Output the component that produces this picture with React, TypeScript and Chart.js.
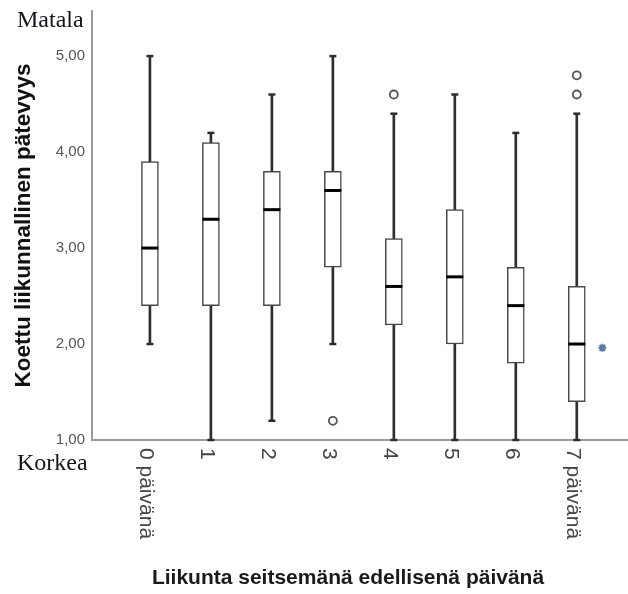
import { useEffect, useRef } from 'react';
import { Chart, registerables } from 'chart.js';

Chart.register(...registerables);

const categories = ['0 päivänä', '1', '2', '3', '4', '5', '6', '7 päivänä'];
const whiskerLow = [2.0, 1.0, 1.2, 2.0, 1.0, 1.0, 1.0, 1.0];
const q1 = [2.4, 2.4, 2.4, 2.8, 2.2, 2.0, 1.8, 1.4];
const median = [3.0, 3.3, 3.4, 3.6, 2.6, 2.7, 2.4, 2.0];
const q3 = [3.9, 4.1, 3.8, 3.8, 3.1, 3.4, 2.8, 2.6];
const whiskerHigh = [5.0, 4.2, 4.6, 5.0, 4.4, 4.6, 4.2, 4.4];
const outlierGroup = [3, 4, 7, 7];
const outlierValue = [1.2, 4.6, 4.6, 4.8];
const extremeX = [7.42];
const extremeY = [1.96];
const yTicks = [1, 2, 3, 4, 5];

const SANS = "'Liberation Sans', Arial, sans-serif";
const SERIF = "'Liberation Serif', 'Times New Roman', serif";

export default function App() {
  const ref = useRef<HTMLCanvasElement>(null);

  useEffect(() => {
    const canvas = ref.current;
    if (!canvas) return;

    const textPlugin = {
      id: 'extraTexts',
      afterDraw(chart: any) {
        const ctx = chart.ctx as CanvasRenderingContext2D;
        const xs = chart.scales.x;
        const area = chart.chartArea;
        ctx.save();
        // rotated category labels (clockwise)
        ctx.fillStyle = '#444';
        ctx.font = `21px ${SANS}`;
        ctx.textAlign = 'left';
        ctx.textBaseline = 'middle';
        categories.forEach((c, i) => {
          const px = xs.getPixelForValue(i);
          ctx.save();
          ctx.translate(px - 4, area.bottom + 8);
          ctx.rotate(Math.PI / 2);
          ctx.fillText(c, 0, 0);
          ctx.restore();
        });
        // x title
        ctx.fillStyle = '#1a1a1a';
        ctx.font = `bold 21px ${SANS}`;
        ctx.textAlign = 'center';
        ctx.textBaseline = 'alphabetic';
        ctx.fillText('Liikunta seitsemänä edellisenä päivänä', 348, 584);
        // Matala / Korkea
        ctx.fillStyle = '#151520';
        ctx.font = `24px ${SERIF}`;
        ctx.textAlign = 'left';
        ctx.fillText('Matala', 17, 27);
        ctx.fillText('Korkea', 17, 470);
        ctx.restore();
      },
    };

    const chart = new Chart(canvas, {
      type: 'bar',
      data: {
        datasets: [
          {
            type: 'bar',
            label: 'whisker',
            data: categories.map((_, i) => ({ x: i, y: [whiskerLow[i], whiskerHigh[i]] })) as any,
            backgroundColor: '#2e2e2e',
            borderWidth: 0,
            barThickness: 2,
            grouped: false,
            order: 5,
          } as any,
          {
            type: 'bar',
            label: 'box',
            data: categories.map((_, i) => ({ x: i, y: [q1[i], q3[i]] })) as any,
            backgroundColor: '#ffffff',
            borderColor: '#484848',
            borderWidth: 1.5,
            borderSkipped: false,
            barThickness: 17,
            grouped: false,
            order: 4,
          } as any,
          {
            type: 'scatter',
            label: 'median',
            data: categories.map((_, i) => ({ x: i, y: median[i] })),
            pointStyle: 'line',
            pointRadius: 8.5,
            pointBorderWidth: 3,
            pointBorderColor: '#000',
            clip: false,
            order: 3,
          } as any,
          {
            type: 'scatter',
            label: 'caps',
            data: [
              ...categories.map((_, i) => ({ x: i, y: whiskerLow[i] })),
              ...categories.map((_, i) => ({ x: i, y: whiskerHigh[i] })),
            ],
            pointStyle: 'line',
            pointRadius: 3.5,
            pointBorderWidth: 2.5,
            pointBorderColor: '#2e2e2e',
            clip: false,
            order: 2,
          } as any,
          {
            type: 'scatter',
            label: 'outliers',
            data: outlierGroup.map((g, i) => ({ x: g, y: outlierValue[i] })),
            pointStyle: 'circle',
            pointRadius: 4,
            pointBorderWidth: 1.8,
            pointBorderColor: '#555',
            pointBackgroundColor: '#fff',
            order: 1,
          } as any,
          {
            type: 'scatter',
            label: 'extreme',
            data: extremeX.map((x, i) => ({ x, y: extremeY[i] })),
            pointStyle: 'star',
            pointRadius: 4,
            pointBorderWidth: 2,
            pointBorderColor: '#5b7ba3',
            pointBackgroundColor: '#5b7ba3',
            order: 0,
          } as any,
        ],
      },
      options: {
        responsive: false,
        maintainAspectRatio: false,
        animation: false,
        events: [],
        layout: { autoPadding: false, padding: { top: 11, left: 0, right: 0, bottom: 0 } },
        plugins: {
          legend: { display: false },
          tooltip: { enabled: false },
        },
        scales: {
          x: {
            type: 'linear',
            offset: false,
            min: -0.95,
            max: 7.84,
            grid: { display: false, drawTicks: false },
            ticks: { display: false },
            border: { color: '#9a9a9a', width: 2 },
            afterFit: (s: any) => {
              s.height = 154;
              s.paddingLeft = 0;
              s.paddingRight = 0;
            },
          },
          y: {
            type: 'linear',
            min: 1,
            max: 5.47,
            grid: { display: false, drawTicks: false },
            border: { color: '#9a9a9a', width: 2 },
            ticks: {
              color: '#555',
              padding: 7,
              font: { family: SANS, size: 15 },
              callback: (v: any) => Number(v).toFixed(2).replace('.', ','),
            },
            afterBuildTicks: (s: any) => {
              s.ticks = yTicks.map((v) => ({ value: v }));
            },
            afterFit: (s: any) => {
              s.width = 92;
              s.paddingTop = 0;
              s.paddingBottom = 0;
            },
            title: {
              display: true,
              text: 'Koettu liikunnallinen pätevyys',
              color: '#111',
              font: { family: SANS, size: 22.5, weight: 'bold' },
              padding: { top: 10, bottom: 0 },
            },
          },
        },
      } as any,
      plugins: [textPlugin],
    });

    return () => chart.destroy();
  }, []);

  return (
    <div style={{ position: 'absolute', left: 0, top: 0, width: 628, height: 594 }}>
      <canvas ref={ref} width={628} height={594} style={{ display: 'block' }} />
    </div>
  );
}
